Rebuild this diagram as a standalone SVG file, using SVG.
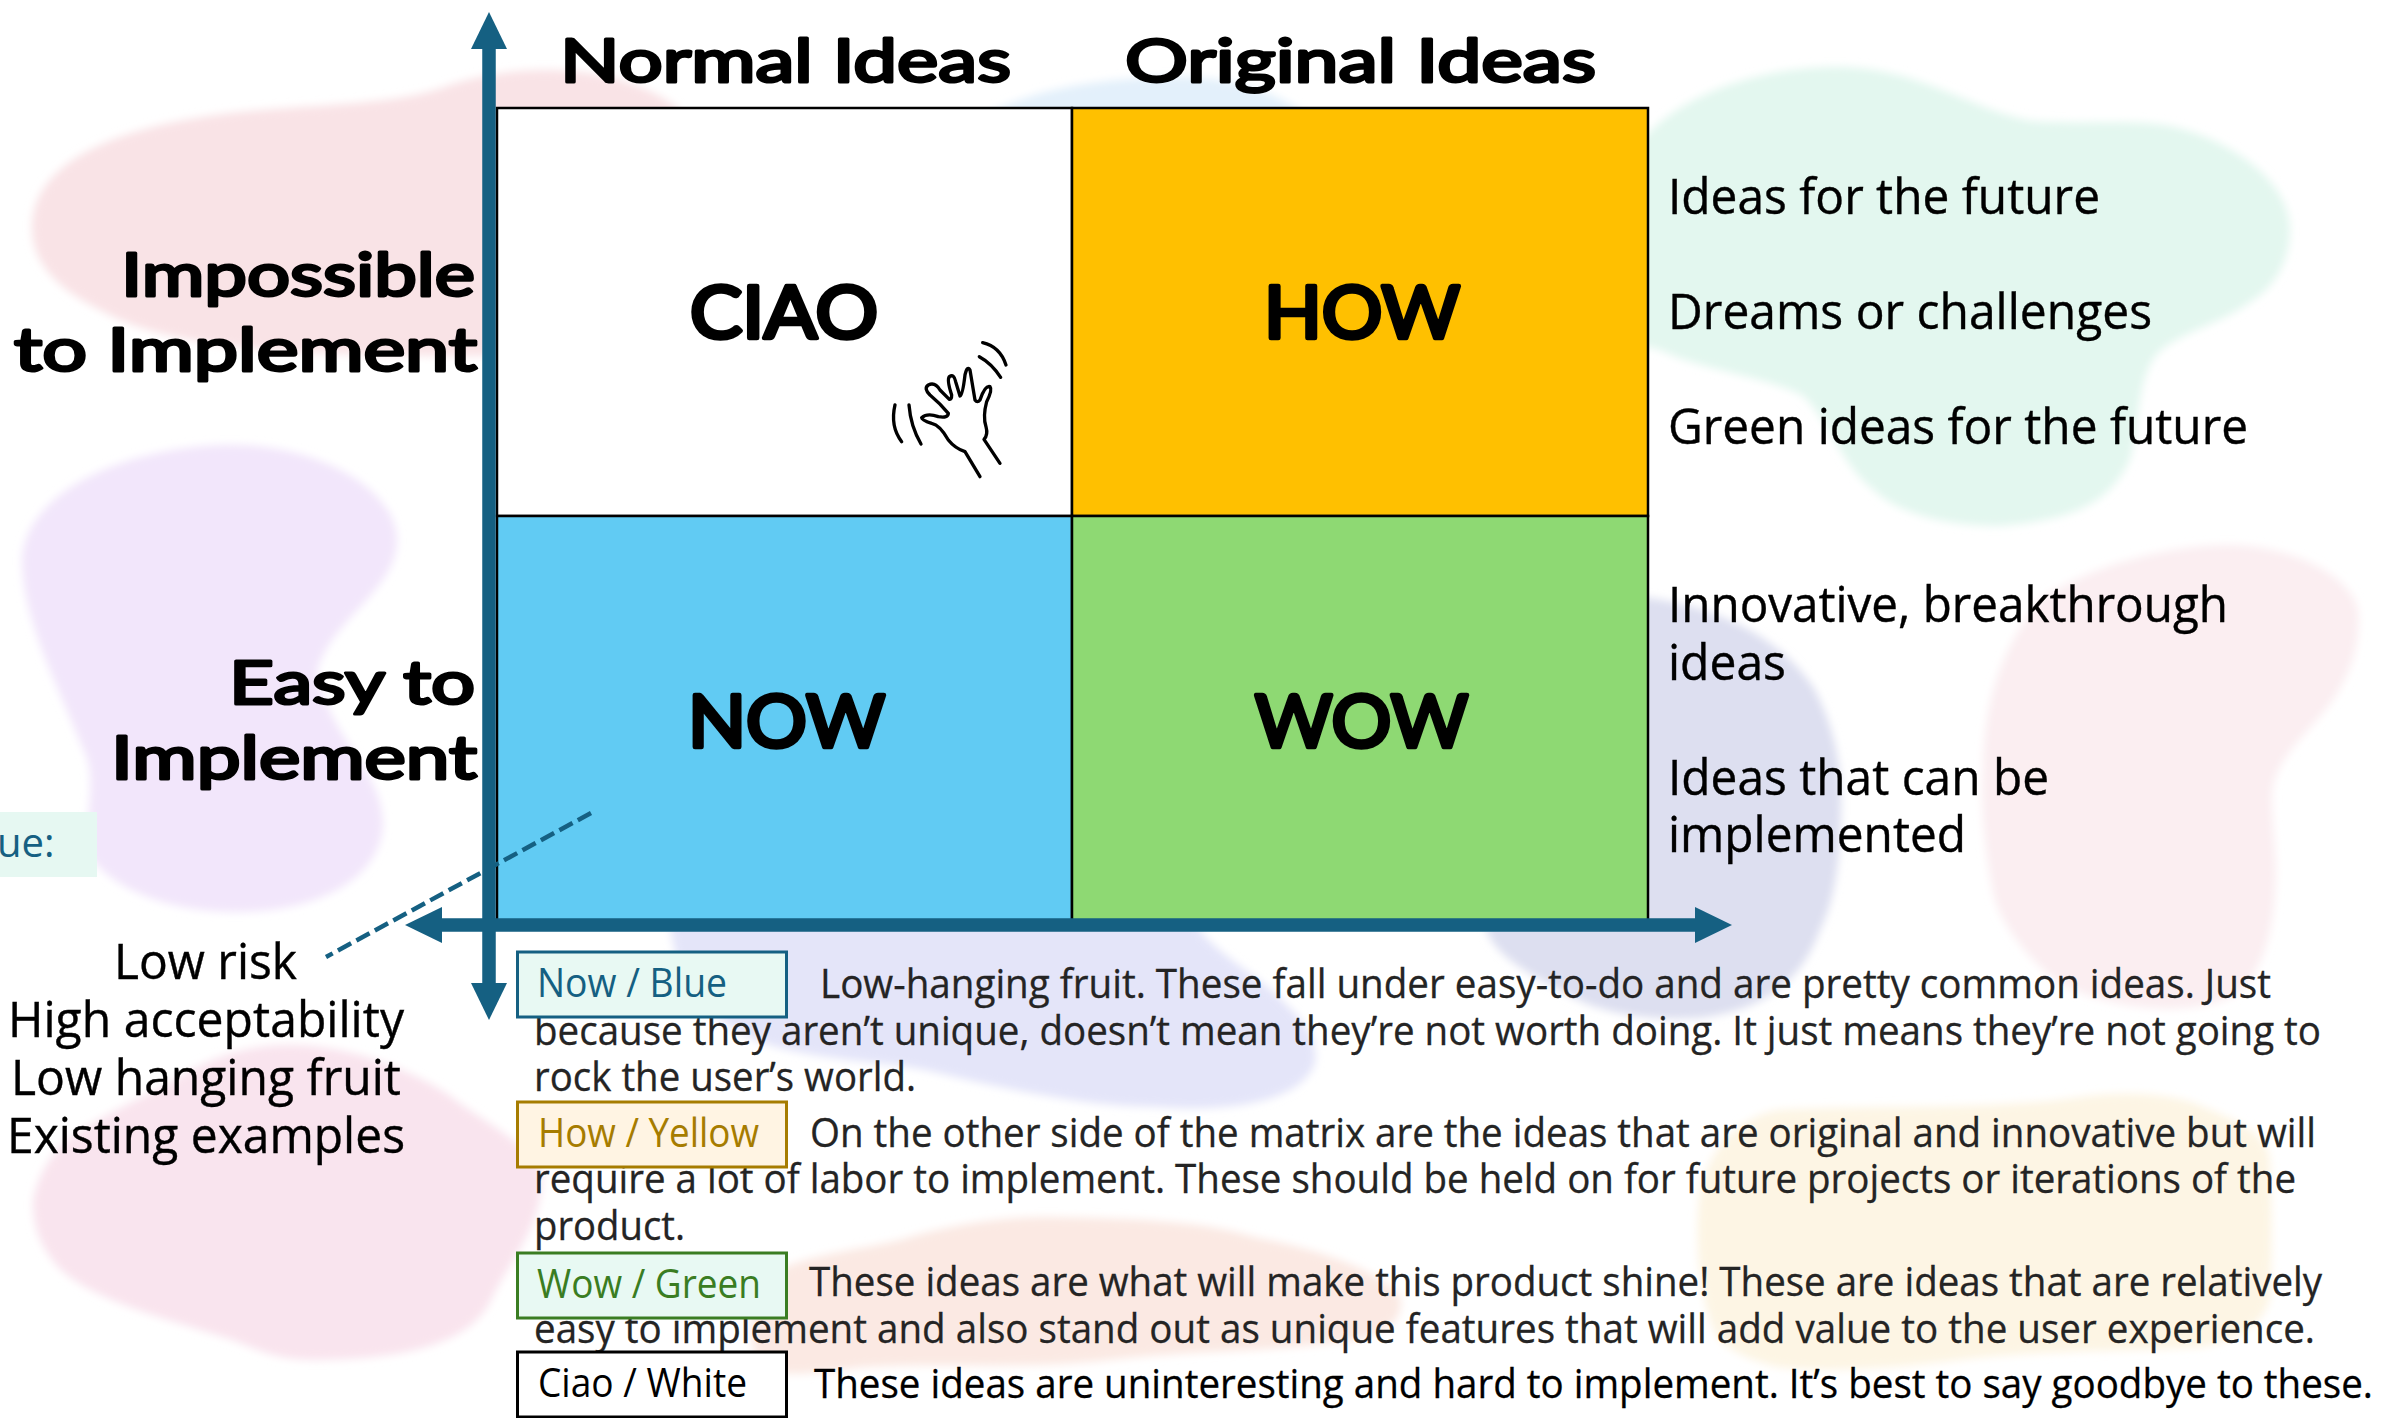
<svg xmlns="http://www.w3.org/2000/svg" width="2407" height="1418" viewBox="0 0 2407 1418">
<style>
.h{font-family:"Lato","Noto Sans",sans-serif;font-weight:400;fill:#000;stroke:#000;stroke-width:3;stroke-linejoin:round;stroke-linecap:round}
.ax{font-size:60px}
.ce{font-size:72px;stroke-width:4.500}
.b{font-family:"Open Sans","Noto Sans",sans-serif;font-size:40px;fill:#242424;stroke:#242424;stroke-width:.3}
.r{font-family:"Open Sans","Noto Sans",sans-serif;font-size:49px;fill:#000;stroke:#000;stroke-width:.4}
.l{font-family:"Open Sans","Noto Sans",sans-serif;font-size:49px;fill:#000;stroke:#000;stroke-width:.4}
.k{font-family:"Open Sans","Noto Sans",sans-serif;font-size:40px}
.cell{stroke:#000;stroke-width:2.500}
.key{stroke-width:3}
.axis{stroke:#156082;stroke-width:13;fill:none}
.hand{fill:none;stroke:#000;stroke-width:10;stroke-linecap:round;stroke-linejoin:round}
</style>
<defs>
<filter id="soft" x="-5%" y="-5%" width="110%" height="110%"><feGaussianBlur stdDeviation="4"/></filter>
<marker id="ah" markerUnits="userSpaceOnUse" markerWidth="38" markerHeight="38" refX="0" refY="18.5" orient="auto"><path d="M0,0.5 L37,18.5 L0,36.5 Z" fill="#156082"/></marker>
</defs>
<rect width="2407" height="1418" fill="#fff"/>
<g id="background" filter="url(#soft)">
<path fill="#f9e3e6" d="M32,228 C32,160 120,125 240,112 C320,104 400,105 450,85 C520,62 620,62 680,110 L680,350 L480,356 C300,356 170,350 100,310 C60,290 32,265 32,228 Z"/>
<path fill="#f2e6fb" d="M233,445 C320,445 397,490 397,540 C397,590 330,620 317,672 C330,740 383,770 383,825 C380,880 316,912 237,912 C170,912 110,890 85,850 C90,800 95,770 83,749 C60,690 22,620 22,560 C25,490 130,445 233,445 Z"/>
<path fill="#f9e4ee" d="M290,1045 C350,1045 410,1070 446,1093 C480,1120 542,1150 542,1180 C540,1230 510,1260 491,1300 C470,1345 400,1360 312,1360 C270,1360 250,1345 223,1337 C170,1320 90,1300 58,1267 C35,1240 33,1220 33,1200 C38,1175 50,1155 67,1140 C100,1115 150,1095 179,1077 C215,1055 250,1045 290,1045 Z"/>
<path fill="#e3f0fb" d="M985,115 C1040,85 1120,77 1180,77 C1240,77 1300,100 1320,130 L985,130 Z"/>
<path fill="#e3f7ef" d="M1620,180 C1640,110 1740,67 1836,67 C1920,67 1970,110 2032,121 C2090,125 2140,118 2179,128 C2240,145 2290,185 2290,230 C2290,265 2270,290 2253,300 C2220,325 2185,330 2160,351 C2135,375 2140,430 2130,459 C2110,505 2070,520 2000,526 C1950,526 1900,515 1875,491 C1840,465 1830,420 1802,395 C1760,375 1700,370 1660,350 L1620,340 Z"/>
<path fill="#e4e5f9" d="M670,920 C672,960 690,1010 755,1040 C810,1062 890,1060 938,1073 C1010,1090 1090,1107 1157,1107 C1220,1112 1300,1105 1315,1063 C1320,1030 1290,1010 1279,997 C1250,970 1210,950 1193,920 Z"/>
<path fill="#dddff0" d="M1620,595 C1680,598 1770,620 1815,690 C1835,730 1841,765 1841,797 C1841,860 1835,900 1820,930 C1800,985 1760,1010 1700,1018 C1640,1022 1590,1010 1560,990 C1520,970 1490,950 1485,925 L1620,925 Z"/>
<path fill="#fbeef1" d="M2228,545 C2290,545 2351,575 2358,610 C2362,650 2345,690 2316,721 C2290,750 2272,770 2272,797 C2272,830 2278,860 2275,893 C2272,940 2260,975 2235,995 C2200,1015 2120,1015 2057,982 C2030,960 2000,925 1993,893 C1985,850 1980,810 1983,765 C1985,700 2000,650 2040,600 C2090,565 2170,545 2228,545 Z"/>
<path fill="#fdf5e4" d="M1698,1213 C1700,1160 1730,1120 1777,1110 C1860,1105 2000,1110 2081,1097 C2130,1090 2180,1095 2203,1107 C2250,1125 2270,1140 2270,1163 C2272,1210 2272,1260 2270,1297 C2265,1325 2235,1340 2203,1347 C2120,1352 2040,1350 1960,1360 C1880,1370 1820,1372 1777,1367 C1730,1355 1715,1340 1710,1320 C1700,1290 1696,1250 1698,1213 Z"/>
<path fill="#fbe9e3" d="M770,1275 C800,1255 860,1250 900,1240 C950,1225 1000,1217 1047,1217 C1120,1218 1200,1220 1254,1237 C1320,1250 1380,1270 1400,1297 C1405,1320 1385,1335 1352,1340 C1280,1352 1190,1350 1108,1360 C1020,1370 950,1362 865,1367 C820,1372 780,1380 760,1365 C745,1340 750,1300 770,1275 Z"/>
</g>
<rect x="0" y="812" width="97" height="65" fill="#e6f8f2"/>
<text x="-3" y="857" class="k" fill="#156082">ue:</text>
<g id="cell-ciao">
<rect class="cell" x="497" y="108" width="575" height="408" fill="#fff"/>
<text class="h ce" x="690" y="338" textLength="188" lengthAdjust="spacingAndGlyphs">CIAO</text>
<g id="wave" class="hand" transform="translate(840 320) scale(.3333)">
<path d="M165,255 Q150,320 185,365"/>
<path d="M207,255 Q212,320 243,372"/>
<path d="M428,68 Q480,80 498,135"/>
<path d="M418,110 Q455,130 482,172"/>
<path d="M420,470 L375,395 Q345,385 325,360 Q300,315 275,310 Q245,300 245,293 Q262,278 295,290 Q325,295 325,280 Q300,250 270,225 Q250,205 265,195 Q285,185 300,210 L328,238 Q335,240 335,225 Q320,180 328,170 Q342,160 347,185 L360,228 Q368,225 375,165 Q382,135 390,150 L405,240 Q412,250 420,240 Q435,195 450,200 Q458,210 440,245 Q428,290 438,320 Q445,345 432,358 L480,430"/>
</g>
</g>
<g id="cell-how">
<rect class="cell" x="1072" y="108" width="576" height="408" fill="#ffc000"/>
<text class="h ce" x="1264" y="338" textLength="196" lengthAdjust="spacingAndGlyphs">HOW</text>
</g>
<g id="cell-now">
<rect class="cell" x="497" y="516" width="575" height="408" fill="#61cbf3"/>
<text class="h ce" x="688" y="747" textLength="197" lengthAdjust="spacingAndGlyphs">NOW</text>
</g>
<g id="cell-wow">
<rect class="cell" x="1072" y="516" width="576" height="408" fill="#8ed973"/>
<text class="h ce" x="1255" y="747" textLength="213" lengthAdjust="spacingAndGlyphs">WOW</text>
</g>
<g id="connectors">
<line x1="591" y1="813" x2="326" y2="957" stroke="#156082" stroke-width="4.5" stroke-dasharray="15 6"/>
<line class="axis" x1="489" y1="983" x2="489" y2="49" marker-end="url(#ah)"/>
<line class="axis" x1="489" y1="49" x2="489" y2="983" marker-end="url(#ah)"/>
<line class="axis" x1="1695" y1="925" x2="442" y2="925" marker-end="url(#ah)"/>
<line class="axis" x1="442" y1="925" x2="1695" y2="925" marker-end="url(#ah)"/>
</g>
<g id="axis-labels">
<text class="h ax" x="560" y="82" textLength="451" lengthAdjust="spacingAndGlyphs">Normal Ideas</text>
<text class="h ax" x="1125" y="82" textLength="471" lengthAdjust="spacingAndGlyphs">Original Ideas</text>
<text class="h ax" x="121" y="296" textLength="354" lengthAdjust="spacingAndGlyphs">Impossible</text>
<text class="h ax" x="14" y="371" textLength="463" lengthAdjust="spacingAndGlyphs">to Implement</text>
<text class="h ax" x="229" y="704" textLength="246" lengthAdjust="spacingAndGlyphs">Easy to</text>
<text class="h ax" x="111" y="779" textLength="366" lengthAdjust="spacingAndGlyphs">Implement</text>
</g>
<g id="notes-right">
<text class="r" x="1668" y="214" textLength="432" lengthAdjust="spacingAndGlyphs">Ideas for the future</text>
<text class="r" x="1668" y="329" textLength="484" lengthAdjust="spacingAndGlyphs">Dreams or challenges</text>
<text class="r" x="1668" y="444" textLength="580" lengthAdjust="spacingAndGlyphs">Green ideas for the future</text>
<text class="r" x="1668" y="622" textLength="560" lengthAdjust="spacingAndGlyphs">Innovative, breakthrough</text>
<text class="r" x="1668" y="680" textLength="118" lengthAdjust="spacingAndGlyphs">ideas</text>
<text class="r" x="1668" y="795" textLength="381" lengthAdjust="spacingAndGlyphs">Ideas that can be</text>
<text class="r" x="1668" y="852" textLength="298" lengthAdjust="spacingAndGlyphs">implemented</text>
</g>
<g id="notes-left">
<text class="l" x="114" y="979" textLength="183" lengthAdjust="spacingAndGlyphs">Low risk</text>
<text class="l" x="8" y="1037" textLength="396" lengthAdjust="spacingAndGlyphs">High acceptability</text>
<text class="l" x="11" y="1095" textLength="390" lengthAdjust="spacingAndGlyphs">Low hanging fruit</text>
<text class="l" x="7" y="1153" textLength="398" lengthAdjust="spacingAndGlyphs">Existing examples</text>
</g>
<g id="legend-now">
<text class="b" x="820" y="998" textLength="1451" lengthAdjust="spacingAndGlyphs">Low-hanging fruit. These fall under easy-to-do and are pretty common ideas. Just</text>
<text class="b" x="534" y="1045" textLength="1787" lengthAdjust="spacingAndGlyphs">because they aren’t unique, doesn’t mean they’re not worth doing. It just means they’re not going to</text>
<text class="b" x="534" y="1091" textLength="382" lengthAdjust="spacingAndGlyphs">rock the user’s world.</text>
<rect class="key" x="517.500" y="952" width="269" height="65" fill="#e8f9f3" stroke="#156082"/>
<text class="k" x="537" y="997" fill="#156082" textLength="190" lengthAdjust="spacingAndGlyphs">Now / Blue</text>
</g>
<g id="legend-how">
<text class="b" x="810" y="1147" textLength="1506" lengthAdjust="spacingAndGlyphs">On the other side of the matrix are the ideas that are original and innovative but will</text>
<text class="b" x="534" y="1193" textLength="1762" lengthAdjust="spacingAndGlyphs">require a lot of labor to implement. These should be held on for future projects or iterations of the</text>
<text class="b" x="534" y="1240" textLength="151" lengthAdjust="spacingAndGlyphs">product.</text>
<rect class="key" x="517.500" y="1102" width="269" height="65" fill="#fff4e3" stroke="#a67c00"/>
<text class="k" x="538" y="1147" fill="#a67c00" textLength="221" lengthAdjust="spacingAndGlyphs">How / Yellow</text>
</g>
<g id="legend-wow">
<text class="b" x="809" y="1296" textLength="1513" lengthAdjust="spacingAndGlyphs">These ideas are what will make this product shine! These are ideas that are relatively</text>
<text class="b" x="534" y="1343" textLength="1781" lengthAdjust="spacingAndGlyphs">easy to implement and also stand out as unique features that will add value to the user experience.</text>
<rect class="key" x="517.500" y="1253" width="269" height="65" fill="#e8f9f3" stroke="#3a7d22"/>
<text class="k" x="537" y="1298" fill="#3a7d22" textLength="224" lengthAdjust="spacingAndGlyphs">Wow / Green</text>
</g>
<g id="legend-ciao">
<rect class="key" x="517.500" y="1352" width="269" height="65" fill="#fff" stroke="#000"/>
<text class="k" x="538" y="1397" fill="#000" textLength="209" lengthAdjust="spacingAndGlyphs">Ciao / White</text>
<text class="b" x="814" y="1398" style="fill:#000;stroke:#000" textLength="1559" lengthAdjust="spacingAndGlyphs">These ideas are uninteresting and hard to implement. It’s best to say goodbye to these.</text>
</g>
</svg>
